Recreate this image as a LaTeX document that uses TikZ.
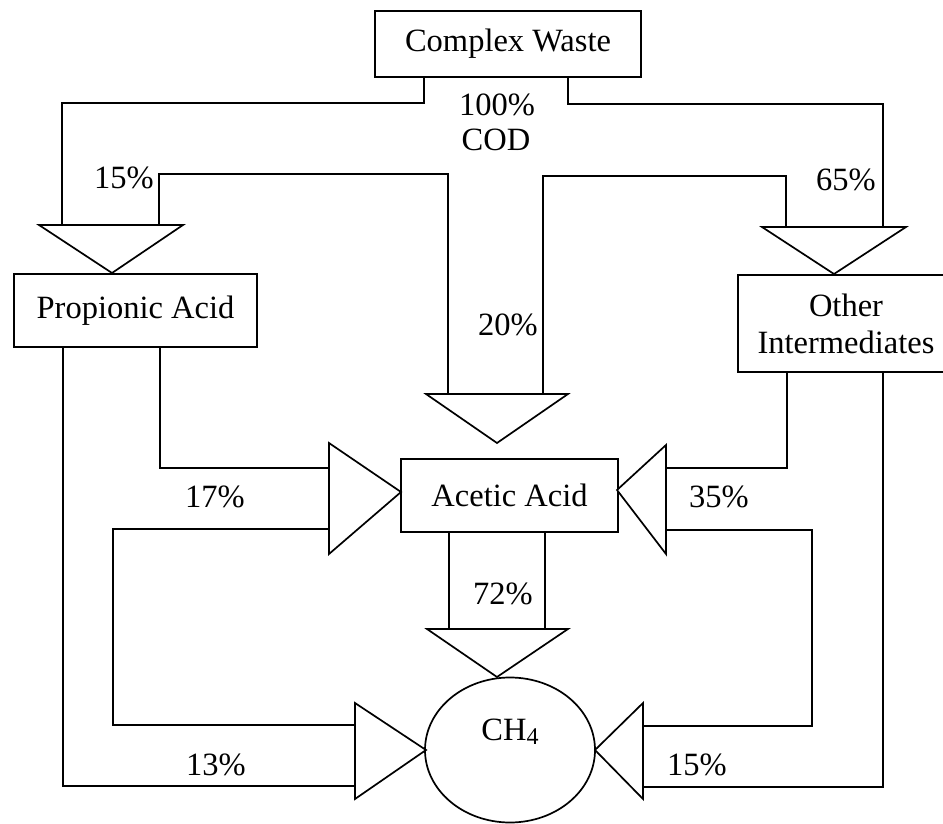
\documentclass[tikz,border=0pt]{standalone}
\usepackage{fontspec}
\setmainfont{Liberation Serif}
\usetikzlibrary{shapes.geometric}
\begin{document}
\begin{tikzpicture}[x=1pt,y=-1pt,line width=1.7pt,
  font=\fontsize{32.5}{37}\selectfont,
  box/.style={draw,rectangle,inner sep=0pt,align=center},
  lbl/.style={inner sep=0pt,anchor=center},
  tri/.style={draw,fill=white,line join=miter}]
\useasboundingbox (0,0) rectangle (943,824);
% boxes
\node[box,minimum width=266pt,minimum height=66pt] (cw) at (508,44) {Complex Waste};
\node[box,minimum width=243pt,minimum height=73pt] (pa) at (135.5,310.5) {Propionic Acid};
\node[box,minimum width=216pt,minimum height=97pt] (oi) at (846,323.5) {Other\\Intermediates};
\node[box,minimum width=217pt,minimum height=73pt] (aa) at (509.5,495.5) {Acetic Acid};
\node[draw,ellipse,inner sep=0pt,minimum width=170pt,minimum height=145pt] (ch) at (510,750) {};
\node[lbl] (cht) at (510,732) {CH\raisebox{-0.25ex}{\fontsize{24}{24}\selectfont 4}};
% triangle input points
\coordinate (pain1) at (62,225);  \coordinate (pain2) at (159,225);
\coordinate (oiin1) at (786,227); \coordinate (oiin2) at (883,227);
\coordinate (aain1) at (448,394); \coordinate (aain2) at (543,394);
\coordinate (aal1) at (329,468);  \coordinate (aal2) at (329,529);
\coordinate (aar1) at (666,468);  \coordinate (aar2) at (666,530);
\coordinate (chl1) at (355,725);  \coordinate (chl2) at (355,786);
\coordinate (chr1) at (643,726);  \coordinate (chr2) at (643,787);
\coordinate (cht1) at (449,629);  \coordinate (cht2) at (545,629);
% connectors
\draw ([xshift=-84pt]cw.south) -- ++(0,25) -| (pain1);
\draw ([xshift=60pt]cw.south) -- ++(0,26) -| (oiin2);
\draw (pain2) -- ++(0,-51) -| (aain1);
\draw (oiin1) -- ++(0,-51) -| (aain2);
\draw ([xshift=24.5pt]pa.south) |- (aal1);
\draw ([xshift=-72.5pt]pa.south) |- (chl2);
\draw (aal2) -- ++(-216,0) |- (chl1);
\draw ([xshift=-59pt]oi.south) |- (aar1);
\draw ([xshift=37pt]oi.south) |- (chr2);
\draw (aar2) -- ++(146,0) |- (chr1);
\draw ([xshift=-60.5pt]aa.south) -- (cht1);
\draw ([xshift=35.5pt]aa.south) -- (cht2);
% triangles
\draw[tri] (39,225) -- (183,225) -- (112,273) -- cycle;
\draw[tri] (426,394) -- (568,394) -- (497,443) -- cycle;
\draw[tri] (762,227) -- (906,227) -- (834,274) -- cycle;
\draw[tri] (329,443) -- (329,554) -- (401,492) -- cycle;
\draw[tri] (666,445) -- (666,554) -- (617,490) -- cycle;
\draw[tri] (427,629) -- (568,629) -- (497,677) -- cycle;
\draw[tri] (355,703) -- (355,799) -- (426,750) -- cycle;
\draw[tri] (643,703) -- (643,799) -- (595,750) -- cycle;
% labels
\node[lbl] (l100) at (497,105) {100\%};
\node[lbl] (lcod) at (496,140) {COD};
\node[lbl] (l15a) at (124,178) {15\%};
\node[lbl] (l65) at (846,180) {65\%};
\node[lbl] (l20) at (508,325) {20\%};
\node[lbl] (l17) at (215,497) {17\%};
\node[lbl] (l35) at (719,497) {35\%};
\node[lbl] (l72) at (503,594) {72\%};
\node[lbl] (l13) at (216,765) {13\%};
\node[lbl] (l15b) at (697,765) {15\%};
\end{tikzpicture}
\end{document}
